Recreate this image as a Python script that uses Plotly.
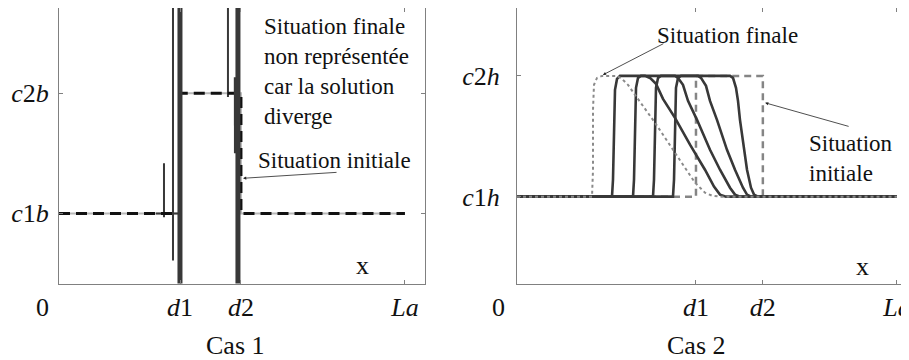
import plotly.graph_objects as go

# ---------------- data (x in units of La, c in units: c1 = 1, c2 = 2) ----------------
# Cas 1
d1_b, d2_b, La = 0.35, 0.526, 1.0
init1_x = [0, d1_b, d1_b, d2_b, d2_b, La]
init1_y = [1, 1, 2, 2, 1, 1]
# diverging solution pieces (thick / thin / blob)
div_thick_x = [0.3497, 0.3497, None, 0.5173, 0.5173]
div_thick_y = [0.30, 2.90, None, 0.30, 2.90]
div_thin_x = [0.3295, 0.3295, None, 0.4884, 0.4884, None, 0.3035, 0.3035, None, 0.28, 0.35]
div_thin_y = [2.90, 0.608, None, 2.90, 1.967, None, 1.417, 0.967, None, 1.0, 1.0]
div_blob_x = [0.5140, 0.5145]
div_blob_y = [2.133, 1.50]

# Cas 2
d1_h, d2_h = 0.471, 0.647
init2_x = [0, d1_h, d1_h, d2_h, d2_h, La]
init2_y = [1, 1, 2, 2, 1, 1]
t1_x = [0, 0.4105, 0.4132, 0.4158, 0.4184, 0.4237, 0.4316, 0.5605, 0.5684, 0.5763, 0.5816, 0.5868, 0.5947, 0.6053, 0.6158, 0.6237, 0.6342, 1.0]
t1_y = [1, 1, 1.14, 1.636, 1.901, 1.983, 2.0, 2.0, 1.983, 1.901, 1.793, 1.636, 1.471, 1.223, 1.074, 1.017, 1.0, 1.0]
t2_x = [0, 0.3579, 0.3605, 0.3632, 0.3658, 0.3711, 0.3789, 0.4763, 0.4842, 0.4974, 0.5079, 0.5263, 0.5526, 0.5737, 0.5947, 0.6053, 0.6158, 1.0]
t2_y = [1, 1, 1.14, 1.636, 1.901, 1.983, 2.0, 2.0, 1.983, 1.917, 1.793, 1.636, 1.388, 1.223, 1.074, 1.017, 1.0, 1.0]
t3_x = [0, 0.3053, 0.3079, 0.3105, 0.3132, 0.3184, 0.3263, 0.4158, 0.4237, 0.4368, 0.4500, 0.4737, 0.5079, 0.5342, 0.5605, 0.5737, 0.5868, 1.0]
t3_y = [1, 1, 1.14, 1.636, 1.901, 1.983, 2.0, 2.0, 1.983, 1.926, 1.793, 1.636, 1.388, 1.223, 1.074, 1.017, 1.0, 1.0]
t4_x = [0, 0.2500, 0.2526, 0.2553, 0.2579, 0.2632, 0.2711, 0.3368, 0.3500, 0.3658, 0.3842, 0.4158, 0.4553, 0.4947, 0.5184, 0.5342, 0.5500, 1.0]
t4_y = [1, 1, 1.14, 1.636, 1.884, 1.975, 2.0, 2.0, 1.983, 1.934, 1.810, 1.653, 1.430, 1.223, 1.083, 1.017, 1.0, 1.0]
fin_x = [0, 0.1974, 0.2000, 0.2000, 0.2026, 0.2105, 0.2237, 0.2605, 0.2737, 0.2921, 0.3105, 0.3368, 0.3632, 0.4105, 0.4421, 0.4684, 0.4947, 0.5132, 0.5342, 1.0]
fin_y = [1, 1, 1.223, 1.719, 1.926, 1.983, 2.0, 2.0, 1.983, 1.926, 1.843, 1.727, 1.612, 1.388, 1.240, 1.116, 1.033, 1.008, 1.0, 1.0]

x_tickvals_1 = [d1_b, d2_b, La]
x_tickvals_2 = [d1_h, d2_h, La]
x_ticktext = ["<i>d</i>1", "<i>d</i>2", "<i>La</i>"]
y_tickvals = [1, 2]
y_ticktext_1 = ["<i>c</i>1<i>b</i>", "<i>c</i>2<i>b</i>"]
y_ticktext_2 = ["<i>c</i>1<i>h</i>", "<i>c</i>2<i>h</i>"]

FONT = "Liberation Serif, Times New Roman, serif"
DARK = "#383838"
GREY = "#858585"
FRAME = "#808080"

# the page body adds an 8px margin: the figure is sized/placed to compensate
OFF = 8
W, H = 909 - OFF, 360 - OFF


def px_x(p):
    return (p - OFF) / W


def px_y(p):
    return 1 - (p - OFF) / H


fig = go.Figure()

# ---- Cas 1 ----
fig.add_trace(go.Scatter(x=init1_x, y=init1_y, mode="lines", xaxis="x", yaxis="y",
                         line=dict(color="#b8b8b8", width=2), showlegend=False))
fig.add_trace(go.Scatter(x=div_thin_x, y=div_thin_y, mode="lines", xaxis="x", yaxis="y",
                         line=dict(color=DARK, width=2), showlegend=False, connectgaps=False))
fig.add_trace(go.Scatter(x=init1_x, y=init1_y, mode="lines", xaxis="x", yaxis="y",
                         line=dict(color="#111111", width=3, dash="11px,6px"), showlegend=False))
fig.add_trace(go.Scatter(x=div_thick_x, y=div_thick_y, mode="lines", xaxis="x", yaxis="y",
                         line=dict(color=DARK, width=5), showlegend=False, connectgaps=False))
fig.add_trace(go.Scatter(x=div_blob_x, y=div_blob_y, mode="lines", xaxis="x", yaxis="y",
                         line=dict(color=DARK, width=6), showlegend=False))

# ---- Cas 2 ----
fig.add_trace(go.Scatter(x=init2_x, y=init2_y, mode="lines", xaxis="x2", yaxis="y2",
                         line=dict(color=GREY, width=2.5, dash="7px,5px"), showlegend=False))
for tx, ty in [(t1_x, t1_y), (t2_x, t2_y), (t3_x, t3_y), (t4_x, t4_y)]:
    fig.add_trace(go.Scatter(x=tx, y=ty, mode="lines", xaxis="x2", yaxis="y2",
                             line=dict(color=DARK, width=2.6), showlegend=False))
fig.add_trace(go.Scatter(x=fin_x, y=fin_y, mode="lines", xaxis="x2", yaxis="y2",
                         line=dict(color="#8a8a8a", width=2, dash="dot"),
                         showlegend=False))

axis_common = dict(showgrid=False, zeroline=False, showline=True, linecolor=FRAME, linewidth=1,
                   ticks="inside", ticklen=4, tickcolor=FRAME, tickwidth=1, automargin=False,
                   tickfont=dict(family=FONT, size=26, color="#111111"))

ydom = [px_y(283.5), 1.0]
fig.update_layout(
    template="none",
    width=W, height=H, margin=dict(l=0, r=0, t=0, b=0, pad=0), autosize=False,
    paper_bgcolor="white", plot_bgcolor="white",
    xaxis=dict(axis_common, domain=[px_x(59), px_x(425)], range=[0, 1.058], mirror="ticks",
               tickvals=x_tickvals_1, ticktext=x_ticktext, ticklabelstandoff=0,
               ticklabeloverflow="allow"),
    yaxis=dict(axis_common, domain=ydom, range=[0.417, 2.708], mirror="ticks",
               tickvals=y_tickvals, ticktext=y_ticktext_1, ticklabelstandoff=4),
    xaxis2=dict(axis_common, domain=[px_x(517), 1.0], range=[0, 1.0316], mirror="ticks",
                anchor="y2", tickvals=x_tickvals_2, ticktext=x_ticktext, ticklabelstandoff=0,
                ticklabeloverflow="allow"),
    yaxis2=dict(axis_common, domain=ydom, range=[0.281, 2.562], mirror=False, anchor="x2",
                tickvals=y_tickvals, ticktext=y_ticktext_2, ticklabelstandoff=11),
)

tf = dict(family=FONT, size=23, color="#111111")
lf = dict(family=FONT, size=26, color="#111111")
ann = [
    # Cas 1
    dict(x=0.587, y=2.183, xref="x", yref="y", xanchor="left", yanchor="middle", align="left",
         text="Situation finale<br>non représentée<br>car la solution<br>diverge", showarrow=False, font=tf),
    dict(x=0.569, y=1.442, xref="x", yref="y", xanchor="left", yanchor="middle",
         text="Situation initiale", showarrow=False, font=tf),
    dict(x=0.532, y=1.292, xref="x", yref="y", ax=95, ay=-6, text="", showarrow=True,
         arrowhead=2, arrowsize=0.8, arrowwidth=0.8, arrowcolor="#222222"),
    dict(x=0.876, y=0.567, xref="x", yref="y", text="x", showarrow=False, font=lf),
    dict(x=-0.052, y=2.525, xref="x", yref="y", text="<i>c</i>", showarrow=False, font=lf),
    dict(x=0, y=px_y(307), xref="x", yref="paper", xshift=-17, yanchor="middle",
         text="0", showarrow=False, font=lf),
    dict(x=px_x(204), y=px_y(345), xref="paper", yref="paper", yanchor="middle",
         text="Cas 1", showarrow=False, font=lf),
    # Cas 2
    dict(x=0.363, y=2.331, xref="x2", yref="y2", xanchor="left", yanchor="middle",
         text="Situation finale", showarrow=False, font=tf),
    dict(x=0.226, y=2.008, xref="x2", yref="y2", ax=62, ay=-32, text="", showarrow=True,
         arrowhead=2, arrowsize=0.8, arrowwidth=0.8, arrowcolor="#222222"),
    dict(x=0.763, y=1.314, xref="x2", yref="y2", xanchor="left", yanchor="middle", align="left",
         text="Situation<br>initiale", showarrow=False, font=tf),
    dict(x=0.653, y=1.777, xref="x2", yref="y2", ax=85, ay=24, text="", showarrow=True,
         arrowhead=2, arrowsize=0.8, arrowwidth=0.8, arrowcolor="#222222"),
    dict(x=0.908, y=0.421, xref="x2", yref="y2", text="x", showarrow=False, font=lf),
    dict(x=-0.052, y=2.29, xref="x2", yref="y2", text="<i>c</i>", showarrow=False, font=lf),
    dict(x=0, y=px_y(307), xref="x2", yref="paper", xshift=-19, yanchor="middle",
         text="0", showarrow=False, font=lf),
    dict(x=px_x(728), y=px_y(345), xref="paper", yref="paper", yanchor="middle",
         text="Cas 2", showarrow=False, font=lf),
]
fig.update_layout(annotations=ann)

fig.write_html("out.html")
